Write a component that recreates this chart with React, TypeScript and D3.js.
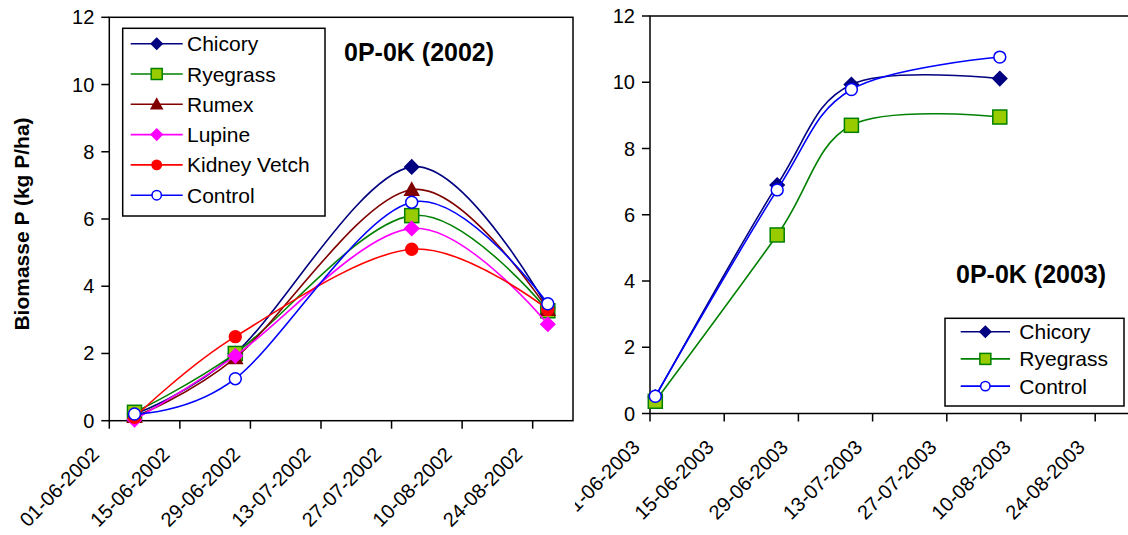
import React from "react";
import * as d3 from "d3";

// 2002 trial, sampling dates and P in biomass (kg P/ha)
const dates2002 = ["06-06-2002", "26-06-2002", "31-07-2002", "27-08-2002"];
const chicory2002 = [0.2, 2.0, 7.55, 3.35];
const ryegrass2002 = [0.25, 2.0, 6.1, 3.27];
const rumex2002 = [0.12, 1.87, 6.87, 3.3];
const lupine2002 = [0.03, 1.93, 5.72, 2.87];
const kidneyVetch2002 = [0.1, 2.5, 5.1, 3.31];
const control2002 = [0.2, 1.25, 6.5, 3.48];

// 2003 trial
const dates2003 = ["02-06-2003", "25-06-2003", "09-07-2003", "06-08-2003"];
const chicory2003 = [0.5, 6.9, 9.93, 10.11];
const ryegrass2003 = [0.37, 5.39, 8.7, 8.95];
const control2003 = [0.52, 6.75, 9.78, 10.76];

const ticks2002 = ["01-06-2002", "15-06-2002", "29-06-2002", "13-07-2002", "27-07-2002", "10-08-2002", "24-08-2002"];
const ticks2003 = ["01-06-2003", "15-06-2003", "29-06-2003", "13-07-2003", "27-07-2003", "10-08-2003", "24-08-2003"];
const yTicks = [0, 2, 4, 6, 8, 10, 12];

const FONT = "'Liberation Sans', Arial, sans-serif";
const parse = d3.utcParse("%d-%m-%Y");

const STYLES = {
  Chicory: { line: "#000080", shape: "diamond", fill: "#000080", stroke: "#000080" },
  Ryegrass: { line: "#008000", shape: "square", fill: "#99cc00", stroke: "#008000" },
  Rumex: { line: "#800000", shape: "triangle", fill: "#800000", stroke: "#800000" },
  Lupine: { line: "#ff00ff", shape: "diamond", fill: "#ff00ff", stroke: "#ff00ff" },
  "Kidney Vetch": { line: "#ff0000", shape: "circle", fill: "#ff0000", stroke: "#ff0000" },
  Control: { line: "#0000ff", shape: "circle", fill: "#ffffff", stroke: "#0000ff" },
};

const series2002 = [
  { name: "Chicory", values: chicory2002 },
  { name: "Ryegrass", values: ryegrass2002 },
  { name: "Rumex", values: rumex2002 },
  { name: "Lupine", values: lupine2002 },
  { name: "Kidney Vetch", values: kidneyVetch2002 },
  { name: "Control", values: control2002 },
];
const series2003 = [
  { name: "Chicory", values: chicory2003 },
  { name: "Ryegrass", values: ryegrass2003 },
  { name: "Control", values: control2003 },
];

const Marker = ({ x, y, name, s }) => {
  const st = STYLES[name];
  const common = { fill: st.fill, stroke: st.stroke, strokeWidth: 1.5 };
  if (st.shape === "diamond")
    return <path d={`M${x},${y - s}L${x + s},${y}L${x},${y + s}L${x - s},${y}Z`} {...common} />;
  if (st.shape === "square")
    return <rect x={x - s} y={y - s} width={2 * s} height={2 * s} {...common} />;
  if (st.shape === "triangle")
    return <path d={`M${x},${y - s}L${x + s},${y + s * 0.8}L${x - s},${y + s * 0.8}Z`} {...common} />;
  return <circle cx={x} cy={y} r={s * 0.85} {...common} />;
};

const Panel = ({ id, dates, series, ticks, box, domain, clipX, title, legend }) => {
  const x = d3.scaleUtc().domain(domain.map(parse)).range([box.left, box.right]);
  const y = d3.scaleLinear().domain([0, 12]).range([box.bottom, box.top]);
  const line = d3
    .line()
    .x((d) => x(d[0]))
    .y((d) => y(d[1]))
    .curve(d3.curveCardinal.tension(0));
  const fmt = d3.utcFormat("%d-%m-%Y");

  return (
    <g clipPath={`url(#${id})`}>
      <defs>
        <clipPath id={id}>
          <rect x={clipX} y={0} width={1128 - clipX} height={535} />
        </clipPath>
      </defs>

      {/* plot frame */}
      <rect x={box.left} y={box.top} width={box.right - box.left} height={box.bottom - box.top} fill="none" stroke="#000" strokeWidth={1.5} />

      {/* y axis */}
      {yTicks.map((t) => (
        <g key={t}>
          <line x1={box.left - 8} x2={box.left} y1={y(t)} y2={y(t)} stroke="#000" strokeWidth={1.5} />
          <text x={box.left - 15} y={y(t) + 7} textAnchor="end" fontSize={20} fontFamily={FONT}>
            {t}
          </text>
        </g>
      ))}

      {/* x axis */}
      {ticks.map((t) => {
        const tx = x(parse(t));
        return (
          <g key={t}>
            <line x1={tx} x2={tx} y1={box.bottom} y2={box.bottom + 8} stroke="#000" strokeWidth={1.5} />
            <text
              transform={`translate(${tx - 9},${box.bottom + 35}) rotate(-45)`}
              textAnchor="end"
              fontSize={20}
              fontFamily={FONT}
            >
              {fmt(parse(t))}
            </text>
          </g>
        );
      })}

      {/* series */}
      {series.map((s) => {
        const pts = dates.map((d, i) => [parse(d), s.values[i]]);
        return (
          <g key={s.name}>
            <path d={line(pts)} fill="none" stroke={STYLES[s.name].line} strokeWidth={1.6} />
            {pts.map((p, i) => (
              <Marker key={i} x={x(p[0])} y={y(p[1])} name={s.name} s={7} />
            ))}
          </g>
        );
      })}

      <text x={title.x} y={title.y} fontSize={25} fontWeight="bold" fontFamily={FONT}>
        {title.text}
      </text>

      {/* legend */}
      <rect x={legend.x} y={legend.y} width={legend.w} height={legend.h} fill="#fff" stroke="#000" strokeWidth={1.5} />
      {series.map((s, i) => {
        const ly = legend.firstY + i * legend.step;
        return (
          <g key={s.name}>
            <line x1={legend.lineX1} x2={legend.lineX2} y1={ly} y2={ly} stroke={STYLES[s.name].line} strokeWidth={1.6} />
            <Marker x={(legend.lineX1 + legend.lineX2) / 2} y={ly} name={s.name} s={5.5} />
            <text x={legend.textX} y={ly + 7.5} fontSize={21} fontFamily={FONT}>
              {s.name}
            </text>
          </g>
        );
      })}
    </g>
  );
};

export default function App() {
  return (
    <svg width={1128} height={535} style={{ position: "absolute", left: 0, top: 0, background: "#fff" }}>
      <text
        transform="translate(29,224) rotate(-90)"
        textAnchor="middle"
        fontSize={21}
        fontWeight="bold"
        fontFamily={FONT}
      >
        Biomasse P (kg P/ha)
      </text>

      <Panel
        id="clip2002"
        dates={dates2002}
        series={series2002}
        ticks={ticks2002}
        box={{ left: 109.3, right: 573, top: 17.3, bottom: 420.7 }}
        domain={["01-06-2002", "01-09-2002"]}
        clipX={0}
        title={{ x: 344, y: 60.7, text: "0P-0K (2002)" }}
        legend={{ x: 122.7, y: 28.3, w: 202.3, h: 187.7, firstY: 43.7, step: 30.3, lineX1: 130.7, lineX2: 182.7, textX: 187 }}
      />

      <Panel
        id="clip2003"
        dates={dates2003}
        series={series2003}
        ticks={ticks2003}
        box={{ left: 650, right: 1169.4, top: 16, bottom: 413.5 }}
        domain={["01-06-2003", "07-09-2003"]}
        clipX={575}
        title={{ x: 956, y: 283.3, text: "0P-0K (2003)" }}
        legend={{ x: 945, y: 318.3, w: 179, h: 87.7, firstY: 331.7, step: 27.2, lineX1: 960.7, lineX2: 1010, textX: 1019.3 }}
      />
    </svg>
  );
}
